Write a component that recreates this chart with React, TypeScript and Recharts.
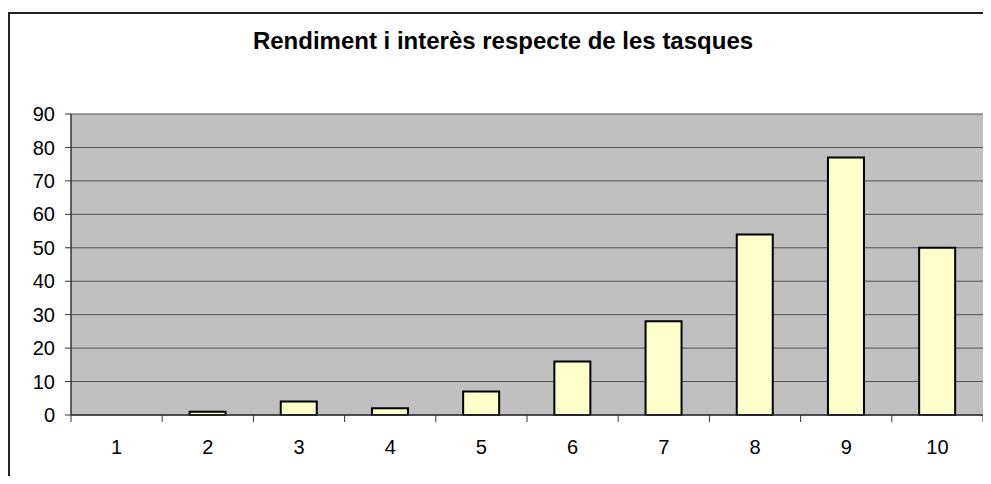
import React from 'react';
import { BarChart, Bar, XAxis, YAxis, CartesianGrid } from 'recharts';

const categories = ['1', '2', '3', '4', '5', '6', '7', '8', '9', '10'];
const values = [0, 1, 4, 2, 7, 16, 28, 54, 77, 50];
const yTicks = [0, 10, 20, 30, 40, 50, 60, 70, 80, 90];
const title = 'Rendiment i interès respecte de les tasques';

const data = categories.map((c, i) => ({ cat: c, value: values[i] }));

const FONT = '"Liberation Sans", Arial, sans-serif';
const CHART_W = 983;
const CHART_H = 468;
const MARGIN = { top: 106, right: 8, bottom: 21, left: 0 };
const YAXIS_W = 63;
const PLOT_W = CHART_W - MARGIN.left - MARGIN.right - YAXIS_W;

const XTick = (props: any) => {
  const { x, y, payload, index } = props;
  const bw = PLOT_W / categories.length;
  const last = index === categories.length - 1;
  return (
    <g>
      <line x1={x - bw / 2} x2={x - bw / 2} y1={y} y2={y + 7} stroke="#333" strokeWidth={1} />
      {last && <line x1={x + bw / 2} x2={x + bw / 2} y1={y} y2={y + 7} stroke="#333" strokeWidth={1} />}
      <text x={x} y={y + 38.6} textAnchor="middle" fontSize={20} fill="#000" fontFamily={FONT}>
        {payload.value}
      </text>
    </g>
  );
};

export default function App() {
  return (
    <div style={{ position: 'relative', width: CHART_W, height: CHART_H, overflow: 'hidden', background: '#fff' }}>
      <div
        style={{
          position: 'absolute',
          left: 0,
          top: 4,
          width: 1000,
          height: 600,
          borderTop: '2px solid #222',
          borderLeft: '2px solid #222',
        }}
      />
      <div style={{ position: 'absolute', left: 0, top: 0 }}>
        <BarChart width={CHART_W} height={CHART_H} data={data} margin={MARGIN} barCategoryGap="30%">
          <CartesianGrid vertical={false} fill="#C0C0C0" fillOpacity={1} stroke="#505050" strokeWidth={1} />
          <XAxis
            dataKey="cat"
            height={40}
            tickSize={0}
            tickMargin={0}
            tickLine={false}
            axisLine={{ stroke: '#333', strokeWidth: 1.5 }}
            tick={<XTick />}
            interval={0}
          />
          <XAxis
            xAxisId="top"
            orientation="top"
            dataKey="cat"
            height={0}
            tick={false}
            tickLine={false}
            axisLine={{ stroke: '#808080', strokeWidth: 2 }}
          />
          <YAxis
            width={YAXIS_W}
            domain={[0, 90]}
            ticks={yTicks}
            interval={0}
            tickSize={6}
            tickMargin={10}
            tickLine={{ stroke: '#333' }}
            axisLine={{ stroke: '#333', strokeWidth: 1.5 }}
            tick={{ fontSize: 20, fill: '#000', fontFamily: FONT }}
          />
          <YAxis
            yAxisId="right"
            orientation="right"
            width={0}
            domain={[0, 90]}
            tick={false}
            tickLine={false}
            axisLine={{ stroke: '#808080', strokeWidth: 2 }}
          />
          <Bar dataKey="value" fill="#FFFFCC" stroke="#000" strokeWidth={2} isAnimationActive={false} />
        </BarChart>
      </div>
      <svg
        width={CHART_W}
        height={60}
        style={{ position: 'absolute', left: 0, top: 0, pointerEvents: 'none' }}
      >
        <text x={495} y={41} textAnchor="middle" fontSize={24} fontWeight="bold" fill="#000" fontFamily={FONT}>
          {title}
        </text>
      </svg>
    </div>
  );
}
